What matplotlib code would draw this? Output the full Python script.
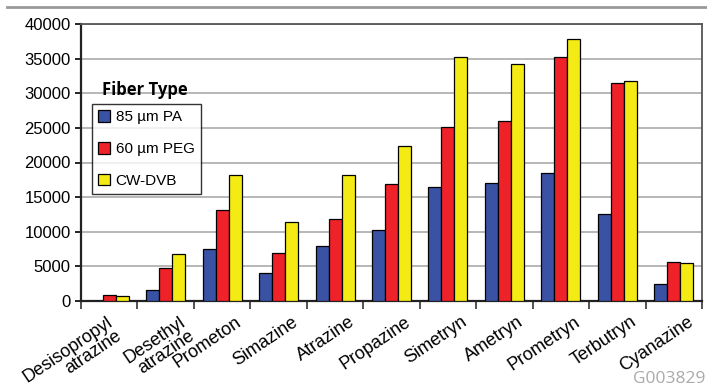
import matplotlib.pyplot as plt
import matplotlib.transforms as mtransforms
import numpy as np

# datos
compuestos = ["Desisopropyl\natrazine", "Desethyl\natrazine", "Prometon", "Simazine",
              "Atrazine", "Propazine", "Simetryn", "Ametryn", "Prometryn", "Terbutryn",
              "Cyanazine"]
pa_85 = [0, 1600, 7500, 4000, 8000, 10200, 16450, 17050, 18450, 12550, 2450]
peg_60 = [900, 4800, 13100, 7000, 11800, 16900, 25150, 25950, 35200, 31550, 5700]
cw_dvb = [700, 6800, 18200, 11400, 18200, 22400, 35200, 34250, 37850, 31750, 5450]
series = ["85 µm PA", "60 µm PEG", "CW-DVB"]
colores = ["#3A52A4", "#EE2228", "#F5EB14"]

plt.rcParams['font.family'] = ['Liberation Sans', 'DejaVu Sans']

fig = plt.figure(figsize=(7.07, 3.88), dpi=100)
ax = fig.add_axes([81/707, 1 - 301/388, 621/707, 277/388])

x = np.arange(len(compuestos))
ancho = 0.23
for k, (vals, nombre, col) in enumerate(zip([pa_85, peg_60, cw_dvb], series, colores)):
    ax.bar(x + (k - 1) * ancho, vals, ancho, color=col, edgecolor='black',
           linewidth=0.9, label=nombre, zorder=3)

ax.set_xlim(-0.5, len(compuestos) - 0.5)
ax.set_ylim(0, 40000)
ax.set_yticks(np.arange(0, 40001, 5000))
ax.tick_params(axis='y', labelsize=12, length=4, width=1.2)
ax.yaxis.grid(True, color='#aaaaaa', linewidth=1.2, zorder=0)

# marcas entre categorias
ax.set_xticks(np.arange(-0.5, len(compuestos), 1))
ax.set_xticklabels([])
ax.tick_params(axis='x', length=6, width=1.2, color='#333333')
ax.set_xticks(x, minor=True)
ax.set_xticklabels(compuestos, minor=True, rotation=34, ha='right', va='top',
                   rotation_mode='anchor', fontsize=13, linespacing=0.95)
ax.tick_params(axis='x', which='minor', length=0, pad=9)
for i, lbl in enumerate(ax.get_xticklabels(minor=True)):
    lbl.set_multialignment('right')
    dx = -3 if i == 0 else 13
    lbl.set_transform(lbl.get_transform() +
                      mtransforms.ScaledTranslation(dx / 100, 0, fig.dpi_scale_trans))

for lado in ['left', 'bottom']:
    ax.spines[lado].set_linewidth(1.6)
    ax.spines[lado].set_color('#222222')
for lado in ['top', 'right']:
    ax.spines[lado].set_linewidth(1.3)
    ax.spines[lado].set_color('#555555')

leg = ax.legend(loc='upper left', bbox_to_anchor=(11/621, 197/277), fontsize=11,
                frameon=True, fancybox=False, edgecolor='black', handlelength=0.75,
                handleheight=0.8, labelspacing=1.15, borderpad=0.4, handletextpad=0.4,
                borderaxespad=0)
leg.get_frame().set_linewidth(1.0)
leg.set_zorder(5)
fig.text(102/707, 1 - 90/388, "Fiber Type", fontsize=12, fontweight='bold',
         family=['Open Sans', 'DejaVu Sans'], va='center')

# linea gris superior
fig.add_artist(plt.Line2D([7/707, 1], [1 - 7/388, 1 - 7/388], color='#999999', linewidth=2))
fig.text(1 - 2/707, 1 - 379/388, "G003829", fontsize=12.5, color='#aaaaaa', va='center',
         ha='right', family=['Open Sans', 'DejaVu Sans'])

fig.savefig("out.png", dpi=100)
